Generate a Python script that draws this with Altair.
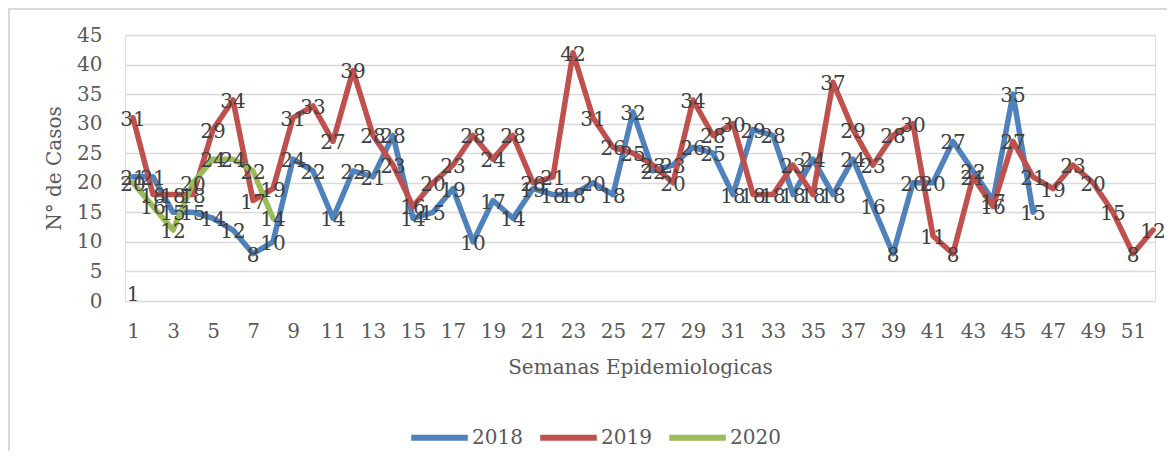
import altair as alt
import pandas as pd

# ---- data ----
weeks_2018 = list(range(1, 47))
cases_2018 = [21, 21, 15, 15, 14, 12, 8, 10, 24, 22, 14, 22, 21, 28, 14, 15, 19, 10, 17, 14,
              19, 18, 18, 20, 18, 32, 22, 23, 26, 25, 18, 29, 28, 18, 24, 18, 24, 16, 8, 20,
              20, 27, 22, 17, 35, 15]
weeks_2019 = list(range(1, 53))
cases_2019 = [31, 18, 18, 18, 29, 34, 17, 19, 31, 33, 27, 39, 28, 23, 16, 20, 23, 28, 24, 28,
              20, 21, 42, 31, 26, 25, 23, 20, 34, 28, 30, 18, 18, 23, 18, 37, 29, 23, 28, 30,
              11, 8, 21, 16, 27, 21, 19, 23, 20, 15, 8, 12]
weeks_2020 = list(range(1, 9))
cases_2020 = [20, 16, 12, 20, 24, 24, 22, 14]
# stray data label shown at week 1
extra_weeks = [1]
extra_values = [1]

series_names = ["2018", "2019", "2020"]
series_colors = ["#4F81BD", "#C0504D", "#9BBB59"]
x_tick_values = [1, 3, 5, 7, 9, 11, 13, 15, 17, 19, 21, 23, 25, 27, 29, 31, 33, 35, 37, 39,
                 41, 43, 45, 47, 49, 51]
y_tick_values = [0, 5, 10, 15, 20, 25, 30, 35, 40, 45]

rows = []
for name, ws, vs in [("2018", weeks_2018, cases_2018),
                     ("2019", weeks_2019, cases_2019),
                     ("2020", weeks_2020, cases_2020)]:
    for w, v in zip(ws, vs):
        rows.append({"week": w, "cases": v, "year": name})
df = pd.DataFrame(rows)
extra_df = pd.DataFrame({"week": extra_weeks, "cases": extra_values})

FONT = "DejaVu Serif"

x_scale = alt.Scale(domain=[0.6, 52.1], nice=False, zero=False)
y_scale = alt.Scale(domain=[0, 45], nice=False)

x_axis = alt.Axis(values=x_tick_values, title="Semanas Epidemiologicas",
                  grid=False, ticks=False, domain=False,
                  labelFontSize=20, labelFont=FONT, labelColor="#595959",
                  labelPadding=20, labelOverlap=False,
                  titleFont=FONT, titleFontSize=20,
                  titleFontWeight="normal", titleColor="#595959",
                  titlePadding=16, labelFlush=False)
y_axis = alt.Axis(values=y_tick_values, title="N° de Casos",
                  grid=True, gridColor="#D9D9D9", gridWidth=1.5,
                  ticks=False, domain=False, labelOverlap=False,
                  labelFontSize=20, labelFont=FONT, labelColor="#595959",
                  labelPadding=23, titleFont=FONT, titleFontSize=20,
                  titleFontWeight="normal", titleColor="#595959",
                  titlePadding=12)

x_enc = alt.X("week:Q", scale=x_scale, axis=x_axis)
y_enc = alt.Y("cases:Q", scale=y_scale, axis=y_axis)

frame = alt.Chart(pd.DataFrame({"k": [0]})).mark_rect(
    fill="white", fillOpacity=0, stroke="#D9D9D9", strokeWidth=2
).encode(x=alt.value(-116), x2=alt.value(1200), y=alt.value(-26), y2=alt.value(600))

lines = alt.Chart(df).mark_line(
    strokeWidth=5.5, interpolate="linear", strokeCap="round", strokeJoin="round"
).encode(
    x=x_enc, y=y_enc,
    color=alt.Color("year:N",
                    scale=alt.Scale(domain=series_names, range=series_colors),
                    legend=alt.Legend(title=None, orient="none", direction="horizontal",
                                      legendX=283, legendY=371,
                                      symbolType="stroke", symbolSize=3200,
                                      symbolStrokeWidth=6, labelFont=FONT,
                                      labelFontSize=20, labelColor="#595959",
                                      labelOffset=1, columnPadding=5)),
)

labels = alt.Chart(df).mark_text(
    font=FONT, fontSize=20, color="#404040", baseline="middle", align="center", dy=2
).encode(x=x_enc, y=y_enc, text="cases:Q")

extra = alt.Chart(extra_df).mark_text(
    font=FONT, fontSize=20, color="#404040", baseline="middle", align="center", dy=0
).encode(x=x_enc, y=y_enc, text="cases:Q")

chart = alt.layer(frame, lines, labels, extra).properties(
    width=1030, height=266,
    autosize=alt.AutoSizeParams(type="none"),
    padding={"left": 117, "top": 27, "right": 12, "bottom": 150},
).configure_view(stroke=None).configure(background="white")

chart.save("out.html", embed_options={"renderer": "svg", "actions": False})
